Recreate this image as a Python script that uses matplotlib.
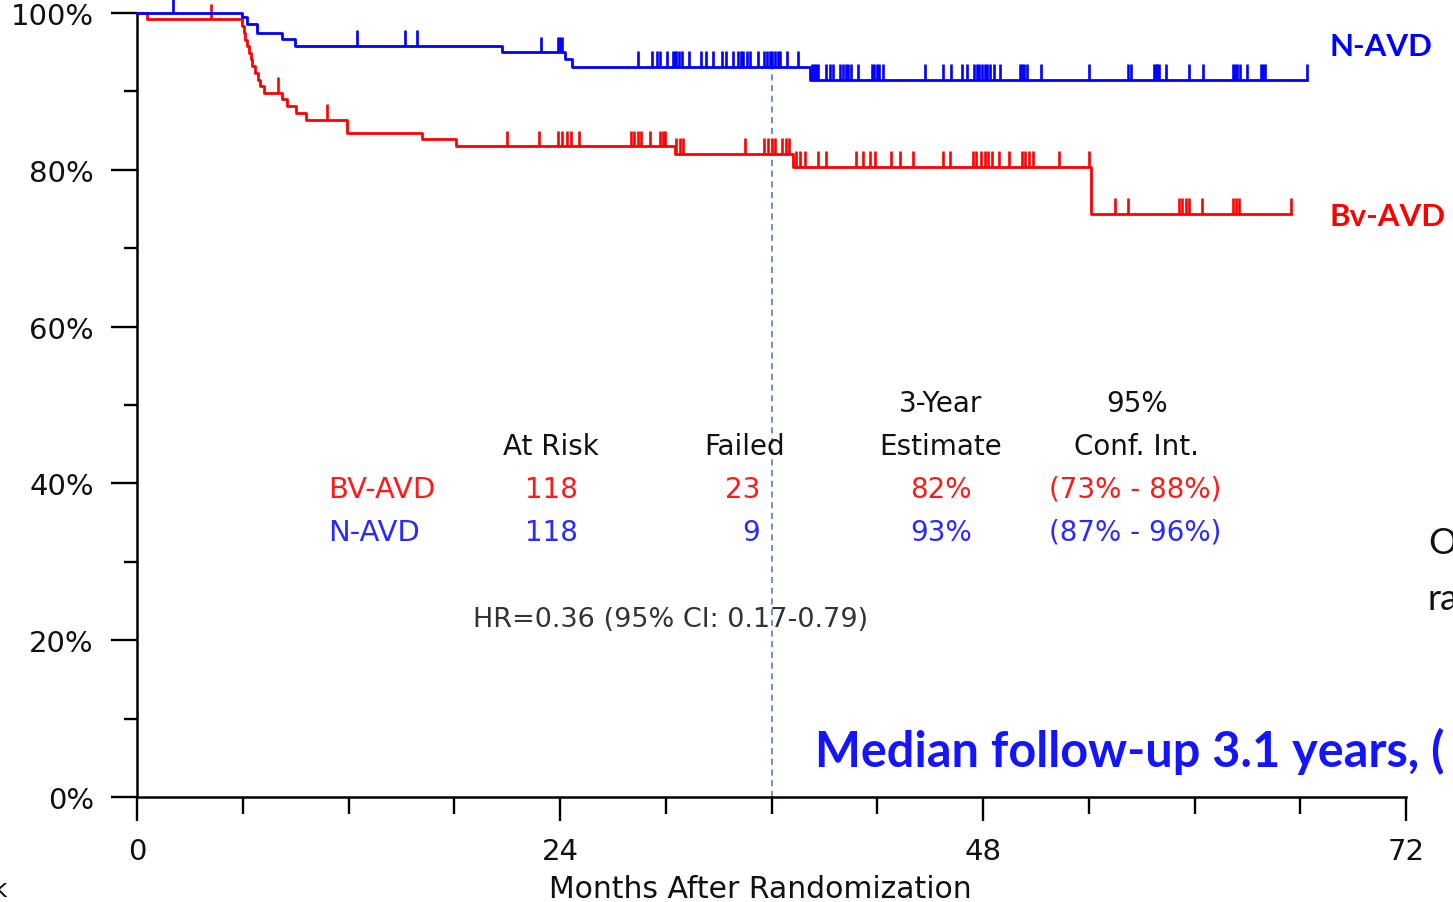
import numpy as np
import matplotlib.pyplot as plt

# Kaplan-Meier steps (months, % event free)
bv_t = [0, 0.55, 5.94, 6.05, 6.15, 6.25, 6.35, 6.45, 6.55, 6.7, 6.85, 7.0, 7.2,
        8.2, 8.5, 9.0, 9.6, 11.9, 16.15, 18.1, 30.5, 37.2, 54.1]
bv_s = [100, 99.2, 98.3, 97.5, 96.6, 95.8, 94.9, 94.1, 93.2, 92.4, 91.5, 90.7, 89.8,
        89.0, 88.1, 87.3, 86.4, 84.7, 83.9, 83.0, 82.0, 80.4, 74.4]
bv_end = 65.5
n_t = [0, 5.94, 6.22, 6.79, 8.21, 8.96, 20.7, 24.3, 24.66, 38.2]
n_s = [100, 99.45, 98.6, 97.5, 96.7, 95.8, 95.0, 94.1, 93.1, 91.5]
n_end = 66.4

# censored observations (months)
bv_cens = [4.2, 8.0, 10.8, 21.0, 22.8, 23.9, 24.1, 24.4, 24.6, 25.1, 28.0, 28.2, 28.4,
           28.6, 29.1, 29.7, 29.85, 29.95, 30.6, 30.8, 31.0, 34.5, 35.6, 35.8, 36.0,
           36.2, 36.6, 36.8, 37.0, 37.4, 37.6, 37.9, 38.65, 39.1, 40.8, 41.2, 41.6,
           41.9, 42.8, 43.3, 44.05, 45.75, 46.1, 47.45, 47.6, 47.9, 48.1, 48.3, 48.5,
           48.9, 49.5, 50.2, 50.4, 50.6, 50.85, 52.3, 54.0, 55.5, 56.25, 59.1, 59.3,
           59.5, 59.7, 60.4, 62.2, 62.35, 62.5, 65.5]
n_cens = [2.07, 12.46, 15.2, 15.9, 22.9, 23.9, 24.0, 24.1, 28.4, 29.2, 29.5, 29.7,
          30.05, 30.4, 30.5, 30.6, 30.75, 30.9, 31.3, 32.0, 32.3, 32.7, 33.2, 33.4,
          33.8, 34.1, 34.25, 34.4, 34.6, 34.8, 35.25, 35.6, 35.75, 35.9, 36.05, 36.2,
          36.35, 36.5, 36.9, 37.5, 38.3, 38.4, 38.5, 38.65, 39.1, 39.3, 39.5, 39.9,
          40.05, 40.2, 40.35, 40.5, 40.9, 41.7, 41.8, 41.96, 42.1, 42.3, 44.7, 45.75,
          46.2, 46.8, 47.1, 47.5, 47.65, 47.8, 47.95, 48.1, 48.25, 48.4, 48.6, 48.96,
          50.1, 50.2, 50.35, 50.5, 51.3, 54.0, 56.25, 56.4, 57.7, 57.8, 57.9, 58.0,
          58.4, 59.7, 60.5, 62.2, 62.3, 62.4, 62.6, 62.96, 63.8, 63.9, 64.0, 66.4]

# summary table
groups = ["BV-AVD", "N-AVD"]
at_risk = ["118", "118"]
failed = ["23", "9"]
est3y = ["82%", "93%"]
conf_int = ["(73% - 88%)", "(87% - 96%)"]
hr_text = "HR=0.36 (95% CI: 0.17-0.79)"

RED = "#ff0000"
BLUE = "#0000ff"
TXT_RED = "#ff1a1a"
TXT_BLUE = "#2a2aff"

W, H = 1453, 903
fig = plt.figure(figsize=(W / 100, H / 100), dpi=100)
ax = fig.add_axes([137 / W, 1 - 798 / H, (1406 - 137) / W, (798 - 14) / H])


def surv_at(t, times, surv):
    i = np.searchsorted(times, t, side="right") - 1
    return np.asarray(surv)[i]


def draw_km(times, surv, end, cens, color):
    tt = list(times) + [end]
    ss = list(surv) + [surv[-1]]
    ax.step(tt, ss, where="post", color=color, lw=2.0, clip_on=False, zorder=3)
    c = np.array(cens)
    y0 = surv_at(c, times, surv)
    ax.vlines(c, y0, y0 + 2.0, color=color, lw=1.9, clip_on=False, zorder=3)


draw_km(bv_t, bv_s, bv_end, bv_cens, RED)
draw_km(n_t, n_s, n_end, n_cens, BLUE)

# 3-year line
ax.plot([36, 36], [0, 94.5], color="#4472c4", lw=1.1, dashes=(4, 3), zorder=2)

ax.set_xlim(0, 72)
ax.set_ylim(0, 100)
ax.spines["top"].set_visible(False)
ax.spines["right"].set_visible(False)
ax.spines["left"].set_linewidth(1.8)
ax.spines["bottom"].set_linewidth(1.8)

ax.set_xticks([0, 24, 48, 72])
ax.set_xticks(np.arange(6, 72, 6), minor=True)
ax.set_yticks(np.arange(0, 101, 20))
ax.set_yticks(np.arange(10, 100, 20), minor=True)
ax.set_yticklabels([f"{v}%" for v in range(0, 101, 20)])
ax.tick_params(axis="x", which="major", length=17, width=1.7, pad=12, labelsize=21)
ax.tick_params(axis="x", which="minor", length=12, width=1.7)
ax.tick_params(axis="y", which="major", length=19, width=1.7, pad=12, labelsize=21)
ax.tick_params(axis="y", which="minor", length=9.5, width=1.7)
for lab in ax.get_xticklabels() + ax.get_yticklabels():
    lab.set_color("#111111")


def px(x, y):
    return x / W, 1 - y / H


fig.text(*px(760, 890), "Months After Randomization", ha="center", va="center",
         fontsize=21.5, color="#111111")

# table
tfs = 20
fig.text(*px(551, 447), "At Risk", ha="center", va="center", fontsize=tfs, color="#111111")
fig.text(*px(745, 447), "Failed", ha="center", va="center", fontsize=tfs, color="#111111")
fig.text(*px(941, 404), "3-Year", ha="center", va="center", fontsize=tfs, color="#111111")
fig.text(*px(941, 447), "Estimate", ha="center", va="center", fontsize=tfs, color="#111111")
fig.text(*px(1137, 404), "95%", ha="center", va="center", fontsize=tfs, color="#111111")
fig.text(*px(1137, 447), "Conf. Int.", ha="center", va="center", fontsize=tfs, color="#111111")
for i, col in enumerate([TXT_RED, TXT_BLUE]):
    yy = 490 + 43 * i
    fig.text(*px(328, yy), groups[i], ha="left", va="center", fontsize=tfs + 1, color=col)
    fig.text(*px(551, yy), at_risk[i], ha="center", va="center", fontsize=tfs, color=col)
    fig.text(*px(760, yy), failed[i], ha="right", va="center", fontsize=tfs, color=col)
    fig.text(*px(941, yy), est3y[i], ha="center", va="center", fontsize=tfs, color=col)
    fig.text(*px(1135, yy), conf_int[i], ha="center", va="center", fontsize=tfs, color=col)
fig.text(*px(671, 620), hr_text, ha="center", va="center", fontsize=19.5, color="#333333")

# curve labels and notes
fig.text(*px(1330, 47), "N-AVD", ha="left", va="center", fontsize=22.5,
         fontweight="bold", family="Lato", color=BLUE)
fig.text(*px(1330, 217), "Bv-AVD", ha="left", va="center", fontsize=22.5,
         fontweight="bold", family="Lato", color=RED)
fig.text(*px(815, 767), "Median follow-up 3.1 years, (", ha="left", va="baseline",
         fontsize=35, fontweight="bold", family="Lato", color="#1414ff")
fig.text(*px(1428, 543), "O", ha="left", va="center", fontsize=26, family="Lato", color="#111111")
fig.text(*px(1428, 600), "ra", ha="left", va="center", fontsize=26, family="Lato", color="#111111")
fig.text(*px(7, 890), "k", ha="right", va="center", fontsize=18, color="#111111")

fig.savefig("out.png", dpi=100)
